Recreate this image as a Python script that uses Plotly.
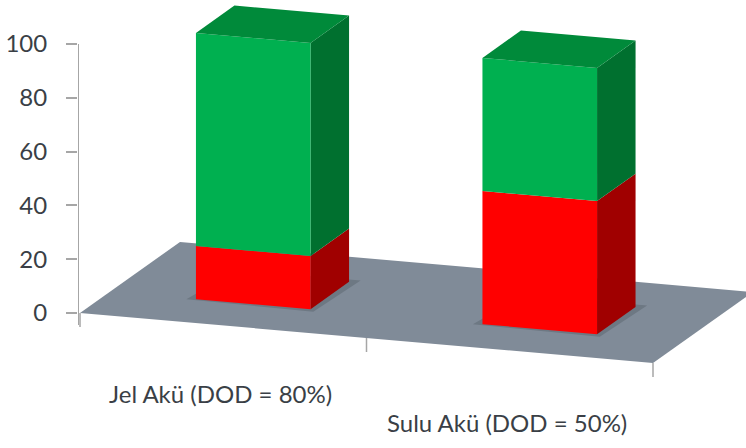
import plotly.graph_objects as go

# Stacked values per battery type
categories = ["Jel Akü (DOD = 80%)", "Sulu Akü (DOD = 50%)"]
red_values = [20, 50]
green_values = [80, 50]
y_ticks = [0, 20, 40, 60, 80, 100]

# Oblique projection of (category, depth, value) onto the 2D axes
DROP_PER_CATEGORY = 9.3
DEPTH_X = 0.349
DEPTH_Y = 26.4
VALUE_SCALE = 0.99


def project(c, d, v):
    return c + DEPTH_X * d, v * VALUE_SCALE - DROP_PER_CATEGORY * c + DEPTH_Y * d


def polygon(corners, color, name=""):
    pts = [project(*p) for p in corners]
    xs = [p[0] for p in pts] + [pts[0][0]]
    ys = [p[1] for p in pts] + [pts[0][1]]
    return go.Scatter(x=xs, y=ys, mode="lines", fill="toself", fillcolor=color,
                      line=dict(width=0, color=color), name=name, hoverinfo="skip",
                      showlegend=False)


fig = go.Figure()

# Floor plane
FLOOR_D = 1.0
fig.add_trace(polygon([(0, 0, 0), (2, 0, 0), (2, FLOOR_D, 0), (0, FLOOR_D, 0)], "#808b98"))

AXIS_GREY = "#a6a6a6"
# Category separators hanging below the floor's front edge
for c in range(3):
    x0, y0 = project(c, 0, 0)
    fig.add_trace(go.Scatter(x=[x0, x0], y=[y0, y0 - 5.2], mode="lines",
                             line=dict(color=AXIS_GREY, width=1.5),
                             hoverinfo="skip", showlegend=False))

BAR_HALF = 0.2
D0, D1 = 0.3, 0.685
GREEN = ("#00b050", "#00702f", "#008a3a")
RED = ("#ff0000", "#a00000", "#c00000")
LABEL_DROP = [25.5, 27.0]

for i, (red, green) in enumerate(zip(red_values, green_values)):
    c0, c1 = i + 0.5 - BAR_HALF, i + 0.5 + BAR_HALF
    # Contact shadow under the bar
    fig.add_trace(polygon([(c0 - 0.03, D0 - 0.01, 0), (c1 + 0.02, D0 - 0.03, 0),
                           (c1 + 0.03, D1 + 0.03, 0), (c0, D1 + 0.03, 0)], "#6d7883"))
    stack = [(0, red, RED), (red, red + green, GREEN)]
    for low, high, (front, side, top) in stack:
        fig.add_trace(polygon([(c1, D0, low), (c1, D1, low), (c1, D1, high), (c1, D0, high)], side))
        fig.add_trace(polygon([(c0, D0, low), (c1, D0, low), (c1, D0, high), (c0, D0, high)], front))
    fig.add_trace(polygon([(c0, D0, 100), (c1, D0, 100), (c1, D1, 100), (c0, D1, 100)], GREEN[2]))
    # Category label below the floor
    lx, ly = project(i + 0.49, 0, -LABEL_DROP[i] / VALUE_SCALE)
    fig.add_annotation(x=lx, y=ly, text=categories[i], showarrow=False,
                       font=dict(family="Lato", size=24, color="#3a3f46"))

X_LEFT = -0.007
# Value axis line, from 0 to 100 only
fig.add_trace(go.Scatter(x=[X_LEFT, X_LEFT], y=[-4.5, 100], mode="lines", cliponaxis=False,
                         line=dict(color=AXIS_GREY, width=2),
                         hoverinfo="skip", showlegend=False))

fig.update_layout(
    width=746, height=448, margin=dict(l=78, r=0, t=0, b=0),
    paper_bgcolor="white", plot_bgcolor="white", showlegend=False,
    xaxis=dict(range=[X_LEFT, 2.3246], visible=False, fixedrange=True),
    yaxis=dict(range=[-50.19, 116.36], tickvals=y_ticks, ticks="outside", ticklen=11,
               tickwidth=1.5, tickcolor=AXIS_GREY, showgrid=False, zeroline=False,
               showline=False, ticklabelstandoff=14, fixedrange=True,
               tickfont=dict(family="Lato", size=24, color="#3a3f46")),
)

fig.write_html("out.html")
